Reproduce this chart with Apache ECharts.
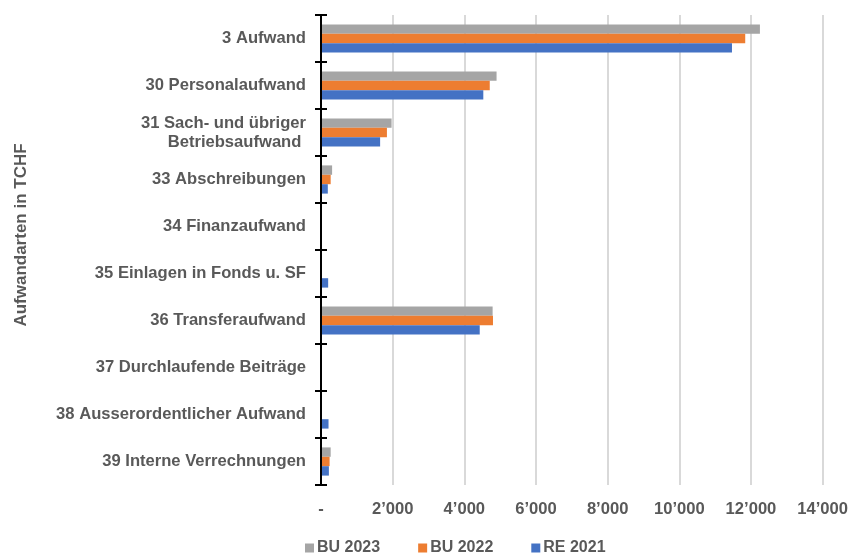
<!DOCTYPE html>
<html>
<head>
<meta charset="utf-8">
<script src="https://cdn.jsdelivr.net/npm/echarts@6/dist/echarts.min.js"></script>
<style>
  html, body { margin: 0; padding: 0; background: #fff; }
  #chart { width: 851px; height: 555px; }
</style>
</head>
<body>
<div id="chart"></div>
<script>
// Expense categories (top to bottom)
const categories = [
  '3 Aufwand',
  '30 Personalaufwand',
  '31 Sach- und übriger\nBetriebsaufwand ',
  '33 Abschreibungen',
  '34 Finanzaufwand',
  '35 Einlagen in Fonds u. SF',
  '36 Transferaufwand',
  '37 Durchlaufende Beiträge',
  '38 Ausserordentlicher Aufwand',
  '39 Interne Verrechnungen'
];

// Values in TCHF
const bu2023 = [12250, 4900, 1970, 310, 0, 0, 4790, 0, 0, 270];
const bu2022 = [11840, 4710, 1840, 270, 0, 0, 4800, 0, 0, 240];
const re2021 = [11470, 4530, 1650, 190, 0, 200, 4430, 0, 210, 220];

const seriesNames = ['BU 2023', 'BU 2022', 'RE 2021'];
const colors = ['#A5A5A5', '#ED7D31', '#4472C4'];
const axisTitle = 'Aufwandarten in TCHF';

function fmt(v) {
  if (v === 0) return '-';
  return String(v).replace(/\B(?=(\d{3})+(?!\d))/g, '\u2019');
}

const font = 'Liberation Sans, Arial, sans-serif';
const textStyle = { color: '#595959', fontWeight: 'bold', fontSize: 16.6, fontFamily: font };

const chart = echarts.init(document.getElementById('chart'));
chart.setOption({
  animation: false,
  color: colors,
  grid: { left: 321, right: 27, top: 15, bottom: 70, containLabel: false },
  legend: {
    top: 535,
    left: 300,
    itemWidth: 9,
    itemHeight: 9,
    itemGap: 38,
    icon: 'rect',
    textStyle: Object.assign({}, textStyle, { fontSize: 16, padding: [0, 0, 0, -2] }),
    data: seriesNames
  },
  graphic: [{
    type: 'text',
    x: 21,
    y: 235,
    rotation: Math.PI / 2,
    style: {
      text: axisTitle,
      fill: '#595959',
      font: 'bold 17px ' + font,
      align: 'center',
      verticalAlign: 'middle'
    }
  }],
  xAxis: {
    type: 'value',
    min: 0,
    max: 14000,
    interval: 2000,
    axisLine: { show: false },
    axisTick: { show: false },
    splitLine: { lineStyle: { color: '#D9D9D9', width: 2 } },
    axisLabel: Object.assign({}, textStyle, { margin: 16, formatter: fmt })
  },
  yAxis: [{
    type: 'category',
    data: categories,
    inverse: true,
    axisLine: { show: true, lineStyle: { color: '#000', width: 2 } },
    axisTick: { show: true, length: 6, lineStyle: { color: '#000', width: 2 } },
    axisLabel: Object.assign({}, textStyle, { margin: 15, lineHeight: 19 }),
    z: 5
  }, {
    type: 'category',
    data: categories,
    inverse: true,
    position: 'left',
    offset: 0,
    axisLine: { show: false },
    axisTick: { show: true, inside: true, length: 6, lineStyle: { color: '#000', width: 2 } },
    axisLabel: { show: false },
    z: 5
  }],
  series: seriesNames.map((name, i) => ({
    name: name,
    type: 'bar',
    data: [bu2023, bu2022, re2021][i],
    barGap: '0%',
    barCategoryGap: '40%',
    itemStyle: { color: colors[i] }
  }))
});
</script>
</body>
</html>
